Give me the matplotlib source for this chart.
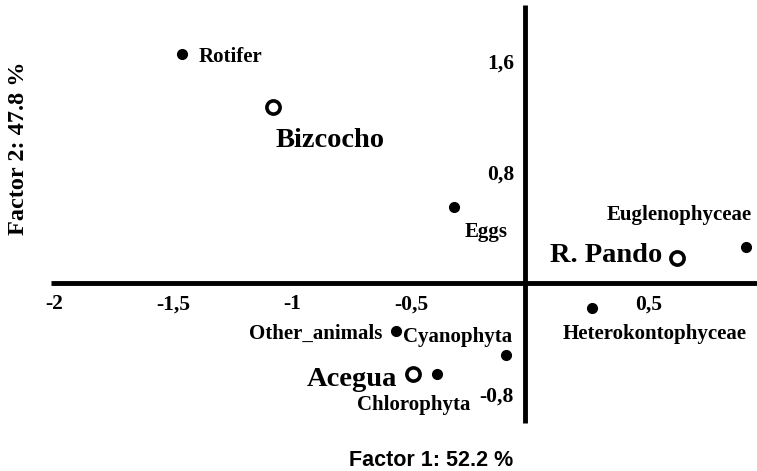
import matplotlib
matplotlib.use("Agg")
import matplotlib.pyplot as plt
import numpy as np

# species / group scores on the two factors
species = ["Rotifer", "Eggs", "Euglenophyceae", "Heterokontophyceae",
           "Other_animals", "Cyanophyta", "Chlorophyta"]
species_f1 = [-1.44, -0.30, 0.93, 0.28, -0.54, -0.08, -0.37]
species_f2 = [1.65, 0.55, 0.26, -0.18, -0.35, -0.52, -0.66]

# sampling sites
sites = ["Bizcocho", "R. Pando", "Acegua"]
sites_f1 = [-1.06, 0.64, -0.47]
sites_f2 = [1.27, 0.18, -0.66]

xticks = [-2, -1.5, -1, -0.5, 0.5]
xtick_labels = ["-2", "-1,5", "-1", "-0,5", "0,5"]
yticks = [1.6, 0.8, -0.8]
ytick_labels = ["1,6", "0,8", "-0,8"]

# label placement (offset in points, horizontal alignment)
species_lab = {
    "Rotifer": ((12, 0), "left"),
    "Eggs": ((8, -16.5), "left"),
    "Euglenophyceae": ((4, 24.5), "right"),
    "Heterokontophyceae": ((-21, -17), "left"),
    "Other_animals": ((-10, 0), "right"),
    "Cyanophyta": ((-74, 14.5), "left"),
    "Chlorophyta": ((-17, -20), "center"),
}
sites_lab = {
    "Bizcocho": ((2, -22), "left"),
    "R. Pando": ((-11, 4.3), "right"),
    "Acegua": ((-11.5, -1.5), "right"),
}

serif = "Liberation Serif"

fig = plt.figure(figsize=(7.57, 4.71), dpi=100)
ax = fig.add_axes([0, 0, 1, 1])
ax.set_xlim(-525 / 238, (757 - 525) / 238)
ax.set_ylim(-(471 - 283) / 138.5, 283 / 138.5)
ax.axis("off")

# axes crossing at origin
ax.plot([-1.99, 1.0], [0, 0], color="black", lw=3.5, solid_capstyle="butt")
ax.plot([0, 0], [-1.01, 2.01], color="black", lw=3.5, solid_capstyle="butt")

for t, lab in zip(xticks, xtick_labels):
    ax.annotate(lab, (t, 0), xytext=(3.5, -13.5), textcoords="offset points",
                ha="center", va="center_baseline", fontsize=15.5, fontweight="bold", family=serif)
for t, lab in zip(yticks, ytick_labels):
    ax.annotate(lab, (0, t), xytext=(-8, 0), textcoords="offset points",
                ha="right", va="center_baseline", fontsize=15.5, fontweight="bold", family=serif)

ax.plot(species_f1, species_f2, "o", color="black", ms=7, ls="none")
ax.plot(sites_f1, sites_f2, "o", mfc="white", mec="black", mew=2.6, ms=9.5, ls="none")

for name, x, y in zip(species, species_f1, species_f2):
    off, ha = species_lab[name]
    ax.annotate(name, (x, y), xytext=off, textcoords="offset points",
                ha=ha, va="center_baseline", fontsize=15, fontweight="bold", family=serif)
for name, x, y in zip(sites, sites_f1, sites_f2):
    off, ha = sites_lab[name]
    ax.annotate(name, (x, y), xytext=off, textcoords="offset points",
                ha=ha, va="center_baseline", fontsize=20.5, fontweight="bold", family=serif)

fig.text(431 / 757, 1 - 460 / 471, "Factor 1: 52.2 %", ha="center", va="center",
         fontsize=15.5, fontweight="bold", family="Liberation Sans")
fig.text(19 / 757, 1 - 148 / 471, "Factor 2: 47.8 %", ha="center", va="center",
         rotation=90, fontsize=17.5, fontweight="bold", family=serif)

fig.savefig("out.png", dpi=100)
